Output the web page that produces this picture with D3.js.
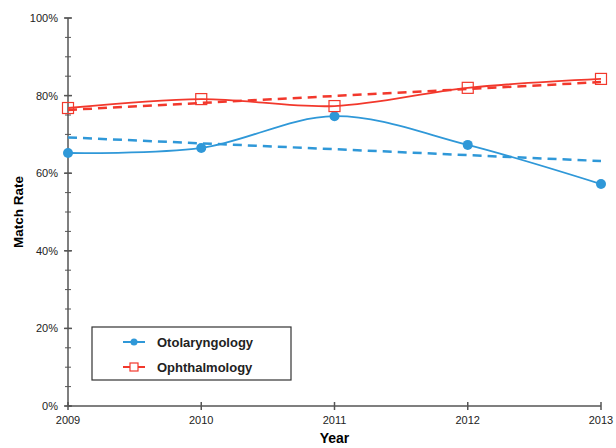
<!DOCTYPE html>
<html>
<head>
<meta charset="utf-8">
<script src="https://cdn.jsdelivr.net/npm/d3@7"></script>
<style>
    body { margin: 0; background: #fff; }
    svg { display: block; font-family: "Liberation Sans", Arial, sans-serif; }
</style>
</head>
<body>
<svg id="chart" width="616" height="448"></svg>
<script>
// data
var years = [2009, 2010, 2011, 2012, 2013];
var otolaryngology = [65.2, 66.5, 74.7, 67.3, 57.2];
var ophthalmology = [76.8, 79.1, 77.3, 82.0, 84.3];
var yTicks = [0, 20, 40, 60, 80, 100];
var seriesNames = ["Otolaryngology", "Ophthalmology"];

var blue = "#2f98d8",
    red = "#f2382c",
    axisColor = "#555";

var svg = d3.select("#chart");
var margin = {left: 68, right: 15, top: 18, bottom: 42};
var width = 616 - margin.left - margin.right,
    height = 448 - margin.top - margin.bottom;

var g = svg.append("g").attr("transform", "translate(" + margin.left + "," + margin.top + ")");

var x = d3.scaleLinear().domain([2009, 2013]).range([0, width]);
var y = d3.scaleLinear().domain([0, 100]).range([height, 0]);

// least squares trend line
function trend(vals) {
    var n = vals.length;
    var mx = d3.mean(years), my = d3.mean(vals);
    var num = 0, den = 0;
    years.forEach(function (yr, i) {
        num += (yr - mx) * (vals[i] - my);
        den += (yr - mx) * (yr - mx);
    });
    var slope = num / den;
    return [years[0], years[n - 1]].map(function (yr) {
        return [yr, my + slope * (yr - mx)];
    });
}

// y axis with minor ticks
var yAxis = g.append("g").attr("class", "y-axis");
yAxis.append("line")
    .attr("x1", 0).attr("x2", 0).attr("y1", 0).attr("y2", height)
    .attr("stroke", axisColor).attr("stroke-width", 1.5);
yAxis.selectAll(".minor").data(d3.range(0, 101, 5)).enter().append("line")
    .attr("x1", -3).attr("x2", 3)
    .attr("y1", function (d) { return y(d); })
    .attr("y2", function (d) { return y(d); })
    .attr("stroke", axisColor).attr("stroke-width", 1);
yAxis.selectAll(".major").data(yTicks).enter().append("line")
    .attr("x1", -4).attr("x2", 4)
    .attr("y1", function (d) { return y(d); })
    .attr("y2", function (d) { return y(d); })
    .attr("stroke", axisColor).attr("stroke-width", 1.5);
yAxis.selectAll("text").data(yTicks).enter().append("text")
    .attr("x", -10)
    .attr("y", function (d) { return y(d) + 4; })
    .attr("text-anchor", "end")
    .attr("font-size", 11)
    .attr("fill", "#222")
    .text(function (d) { return d + "%"; });

// x axis
var xAxis = g.append("g").attr("class", "x-axis").attr("transform", "translate(0," + height + ")");
xAxis.append("line")
    .attr("x1", 0).attr("x2", width)
    .attr("stroke", axisColor).attr("stroke-width", 1.5);
xAxis.selectAll(".tick").data(years).enter().append("line")
    .attr("x1", function (d) { return x(d); })
    .attr("x2", function (d) { return x(d); })
    .attr("y1", -4).attr("y2", 4)
    .attr("stroke", axisColor).attr("stroke-width", 1.5);
xAxis.selectAll("text").data(years).enter().append("text")
    .attr("x", function (d) { return x(d); })
    .attr("y", 18)
    .attr("text-anchor", "middle")
    .attr("font-size", 11)
    .attr("fill", "#222")
    .text(function (d) { return d; });

// axis titles
svg.append("text")
    .attr("x", margin.left + x(2011))
    .attr("y", 443)
    .attr("text-anchor", "middle")
    .attr("font-size", 14)
    .attr("font-weight", "bold")
    .text("Year");
svg.append("text")
    .attr("transform", "translate(23," + (margin.top + y(50)) + ") rotate(-90)")
    .attr("text-anchor", "middle")
    .attr("font-size", 13.5)
    .attr("font-weight", "bold")
    .text("Match Rate");

var line = d3.line()
    .x(function (d) { return x(d[0]); })
    .y(function (d) { return y(d[1]); });
var smooth = d3.line()
    .x(function (d) { return x(d[0]); })
    .y(function (d) { return y(d[1]); })
    .curve(d3.curveCatmullRom.alpha(0));

var series = [
    {name: seriesNames[0], vals: otolaryngology, color: blue, marker: "circle"},
    {name: seriesNames[1], vals: ophthalmology, color: red, marker: "square"}
];

series.forEach(function (s) {
    var pts = years.map(function (yr, i) { return [yr, s.vals[i]]; });
    g.append("path")
        .attr("d", line(trend(s.vals)))
        .attr("fill", "none")
        .attr("stroke", s.color)
        .attr("stroke-width", 2.5)
        .attr("stroke-dasharray", "9,6");
    g.append("path")
        .attr("d", smooth(pts))
        .attr("fill", "none")
        .attr("stroke", s.color)
        .attr("stroke-width", 1.8);
});

function drawMarker(sel, type, color, cx, cy) {
    if (type === "circle") {
        sel.append("circle")
            .attr("cx", cx).attr("cy", cy).attr("r", 5)
            .attr("fill", color);
    } else {
        sel.append("rect")
            .attr("x", cx - 5.5).attr("y", cy - 5.5)
            .attr("width", 11).attr("height", 11)
            .attr("fill", "none")
            .attr("stroke", color).attr("stroke-width", 1.2);
    }
}

series.forEach(function (s) {
    years.forEach(function (yr, i) {
        drawMarker(g, s.marker, s.color, x(yr), y(s.vals[i]));
    });
});

// legend
var legend = svg.append("g").attr("transform", "translate(92,327)");
legend.append("rect")
    .attr("width", 199).attr("height", 53)
    .attr("fill", "#fff")
    .attr("stroke", "#333").attr("stroke-width", 1.2);
series.forEach(function (s, i) {
    var ly = 15 + i * 25;
    legend.append("line")
        .attr("x1", 31).attr("x2", 53)
        .attr("y1", ly).attr("y2", ly)
        .attr("stroke", s.color).attr("stroke-width", 2);
    if (s.marker === "circle") {
        legend.append("circle").attr("cx", 42).attr("cy", ly).attr("r", 3.5).attr("fill", s.color);
    } else {
        legend.append("rect").attr("x", 38).attr("y", ly - 4).attr("width", 8).attr("height", 8)
            .attr("fill", "#fff").attr("stroke", s.color).attr("stroke-width", 1.2);
    }
    legend.append("text")
        .attr("x", 65).attr("y", ly + 4.5)
        .attr("font-size", 13)
        .attr("font-weight", "bold")
        .attr("fill", "#222")
        .text(s.name);
});
</script>
</body>
</html>
